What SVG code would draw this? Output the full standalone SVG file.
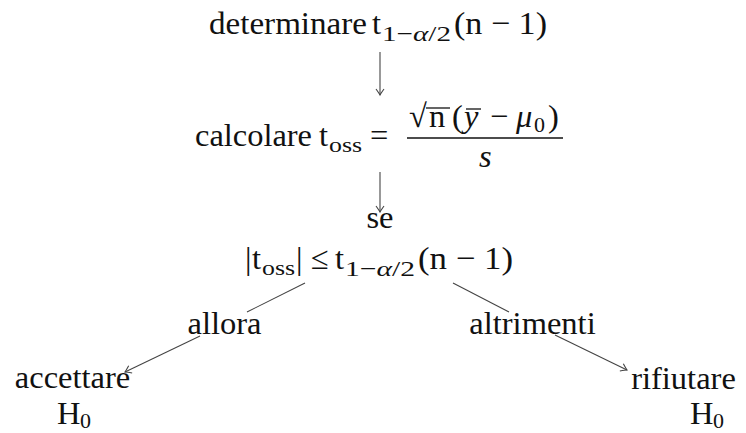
<svg xmlns="http://www.w3.org/2000/svg" width="746" height="433" viewBox="0 0 746 433">
<defs>
<style>
.t,.m,.mi,.s{font-family:'Liberation Serif','Times New Roman',Tinos,'DejaVu Serif',serif;fill:#111;}
.t{font-size:32.5px;}
.m{font-size:32.5px;}
.mi{font-size:32.5px;font-style:italic;}
.s{font-size:22px;}
.e{stroke:#444;stroke-width:1.1;fill:none;}
.a{marker-end:url(#arr);}
</style>
<marker id="arr" markerUnits="userSpaceOnUse" markerWidth="14" markerHeight="14" viewBox="-8 -7 10 14" refX="0" refY="0" orient="auto">
<path d="M-6,-4 Q-1.5,-0.8 0,0 Q-1.5,0.8 -6,4" fill="none" stroke="#444" stroke-width="1.1"/>
</marker>
</defs>
<rect width="746" height="433" fill="#fff"/>

<g id="connectors">
<line class="e a" x1="380" y1="52" x2="380" y2="95"/>
<line class="e a" x1="380" y1="172" x2="380" y2="212"/>
<line class="e" x1="305" y1="283" x2="247" y2="312"/>
<line class="e a" x1="200" y1="336" x2="125" y2="372"/>
<line class="e" x1="453" y1="283" x2="509" y2="312"/>
<line class="e a" x1="555" y1="335" x2="627" y2="370"/>
</g>

<g font-family="Liberation Serif, Times New Roman, serif">
<g id="node-determinare">
<text class="t" x="209" y="34" textLength="158" lengthAdjust="spacingAndGlyphs">determinare</text>
<text class="m" x="372" y="34">t</text>
<text class="s" x="382" y="41" textLength="69" lengthAdjust="spacingAndGlyphs">1−<tspan font-style="italic">α</tspan>/2</text>
<text class="m" x="454" y="34" textLength="93" lengthAdjust="spacingAndGlyphs">(n − 1)</text>
</g>

<g id="node-calcolare">
<text class="t" x="195" y="146" textLength="117" lengthAdjust="spacingAndGlyphs">calcolare</text>
<text class="m" x="319" y="146">t</text>
<text class="s" x="329" y="152" textLength="33" lengthAdjust="spacingAndGlyphs">oss</text>
<text class="m" x="370" y="146">=</text>
<text class="m" x="409" y="127">√</text>
<line x1="426" y1="108" x2="450" y2="108" stroke="#111" stroke-width="1.3"/>
<text class="m" x="429" y="127">n</text>
<text class="m" x="452" y="127">(</text>
<text class="mi" x="464" y="127">y</text>
<line x1="466" y1="109" x2="481" y2="109" stroke="#111" stroke-width="1.3"/>
<text class="m" x="490" y="127">−</text>
<text class="mi" x="516" y="127">μ</text>
<text class="s" x="534" y="132">0</text>
<text class="m" x="548" y="127">)</text>
<line x1="407" y1="138" x2="563" y2="138" stroke="#111" stroke-width="1.3"/>
<text class="mi" x="479" y="167">s</text>
</g>

<g id="node-se">
<text class="t" x="380" y="228" text-anchor="middle">se</text>
<text class="m" x="245" y="269">|</text>
<text class="m" x="252" y="269">t</text>
<text class="s" x="262" y="275" textLength="33" lengthAdjust="spacingAndGlyphs">oss</text>
<text class="m" x="296" y="269">|</text>
<text class="m" x="311" y="269">≤</text>
<text class="m" x="335" y="269">t</text>
<text class="s" x="345" y="276" textLength="70" lengthAdjust="spacingAndGlyphs">1−<tspan font-style="italic">α</tspan>/2</text>
<text class="m" x="418" y="269" textLength="95" lengthAdjust="spacingAndGlyphs">(n − 1)</text>
</g>

<g id="label-allora">
<text class="t" x="224.5" y="334" text-anchor="middle">allora</text>
</g>
<g id="label-altrimenti">
<text class="t" x="532.5" y="334" text-anchor="middle">altrimenti</text>
</g>

<g id="node-accettare">
<text class="t" x="72.5" y="388" text-anchor="middle">accettare</text>
<text class="t" x="57" y="424">H</text>
<text class="s" x="80" y="428">0</text>
</g>

<g id="node-rifiutare">
<text class="t" x="683.5" y="389" text-anchor="middle">rifiutare</text>
<text class="t" x="690" y="424">H</text>
<text class="s" x="713" y="428">0</text>
</g>
</g>
</svg>
